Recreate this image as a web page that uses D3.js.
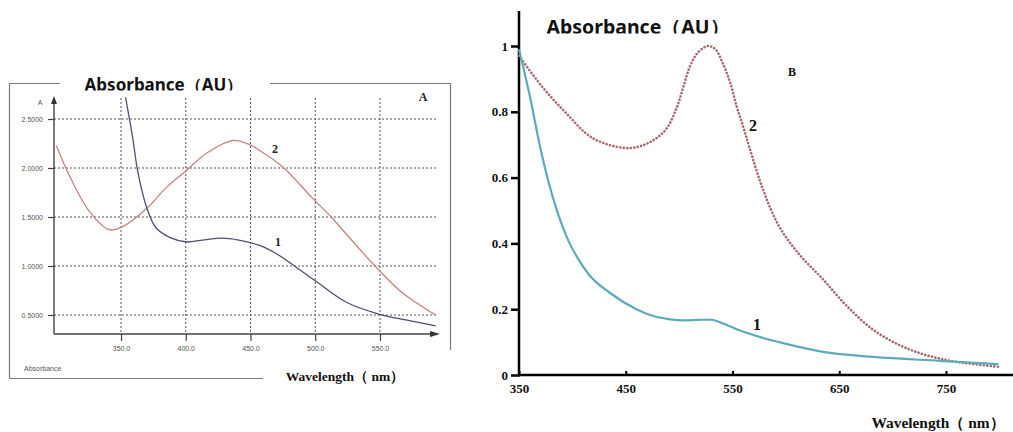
<!DOCTYPE html>
<html><head><meta charset="utf-8">
<script src="https://cdn.jsdelivr.net/npm/d3@7/dist/d3.min.js"></script>
<style>
html,body{margin:0;padding:0;background:#fff;}
svg{display:block;}
</style></head>
<body>
<svg id="chart" width="1013" height="432"></svg>
<script>
// ---------- Panel A data ----------
const ticksA_x = [350, 400, 450, 500, 550];
const ticksA_y = [0.5, 1.0, 1.5, 2.0, 2.5];
const wlA1 = [353.5, 359, 363, 370, 377, 388, 401, 413, 428, 441, 457, 472, 485, 501, 524, 549, 570, 593];
const absA1 = [2.72, 2.31, 1.96, 1.59, 1.39, 1.29, 1.245, 1.265, 1.285, 1.265, 1.21, 1.11, 0.99, 0.84, 0.63, 0.51, 0.45, 0.39];
const wlA2 = [300, 311, 326, 341, 351, 370, 385, 401, 416, 436, 449, 457, 475, 498, 513, 528, 549, 567, 593];
const absA2 = [2.23, 1.90, 1.55, 1.37, 1.40, 1.59, 1.80, 1.98, 2.15, 2.28, 2.24, 2.18, 2.01, 1.69, 1.49, 1.265, 0.96, 0.73, 0.50];

// ---------- Panel B data ----------
const ticksB_x = [350, 450, 550, 650, 750];
const ticksB_y = [0, 0.2, 0.4, 0.6, 0.8, 1];
const ticksB_yLabels = ["0", "0.2", "0.4", "0.6", "0.8", "1"];
const wlB1 = [350, 360, 370, 377, 386, 396, 406, 416, 435, 460, 475, 490, 505, 520, 530, 540, 557, 576, 600, 632, 682, 744, 799];
const absB1 = [0.99, 0.85, 0.69, 0.595, 0.495, 0.41, 0.35, 0.303, 0.25, 0.20, 0.18, 0.17, 0.166, 0.168, 0.168, 0.158, 0.135, 0.115, 0.095, 0.072, 0.055, 0.043, 0.033];
const wlB2 = [350, 372, 393, 419, 449, 463, 476, 488, 498, 504, 510, 517, 527, 534, 541, 548, 554, 560, 566, 579, 594, 613, 635, 657, 682, 707, 732, 760, 799];
const absB2 = [0.97, 0.875, 0.80, 0.72, 0.69, 0.695, 0.714, 0.748, 0.815, 0.876, 0.937, 0.978, 1.0, 0.99, 0.947, 0.887, 0.815, 0.755, 0.69, 0.56, 0.45, 0.365, 0.29, 0.21, 0.137, 0.09, 0.06, 0.04, 0.025];

const svg = d3.select("#chart");
const defs = svg.append("defs");

// ================= PANEL A =================
const xA = d3.scaleLinear().domain([350, 550]).range([121, 380]);
const yA = d3.scaleLinear().domain([0.5, 2.5]).range([315, 119]);
const gA = svg.append("g");
const frameC = "#7a7a7a";

// outer frame (partial)
gA.append("path").attr("d", "M60,83.5 H9.5 V378.5 H263").attr("fill","none").attr("stroke",frameC).attr("stroke-width",1.2);
gA.append("path").attr("d", "M270,83.5 H450.5 V350").attr("fill","none").attr("stroke",frameC).attr("stroke-width",1.2);

// gridlines
gA.append("g").selectAll("line").data(ticksA_y).join("line")
  .attr("x1", 54).attr("x2", 437).attr("y1", d => yA(d)).attr("y2", d => yA(d))
  .attr("stroke", "#555").attr("stroke-width", 1).attr("stroke-dasharray", "2,2");
gA.append("g").selectAll("line").data(ticksA_x).join("line")
  .attr("x1", d => xA(d)).attr("x2", d => xA(d)).attr("y1", 98).attr("y2", 334)
  .attr("stroke", "#555").attr("stroke-width", 1).attr("stroke-dasharray", "2,2");

// axes
const axAy = d3.axisLeft(yA).tickValues(ticksA_y).tickFormat(d3.format(".4f")).tickSize(6).tickPadding(5);
const gAy = gA.append("g").attr("transform","translate(54,0)").call(axAy);
gAy.select(".domain").remove();
gAy.selectAll("line").attr("stroke","#444").attr("stroke-width",1.2);
gAy.selectAll("text").attr("font-family","Liberation Sans, Arial, sans-serif").attr("font-size",7).attr("fill","#555");

const axAx = d3.axisBottom(xA).tickValues(ticksA_x).tickFormat(d3.format(".1f")).tickSize(7).tickPadding(5);
const gAx = gA.append("g").attr("transform","translate(0,334)").call(axAx);
gAx.select(".domain").remove();
gAx.selectAll("line").attr("stroke","#444").attr("stroke-width",1.2);
gAx.selectAll("text").attr("font-family","Liberation Sans, Arial, sans-serif").attr("font-size",7).attr("fill","#555");

gA.append("line").attr("x1",54).attr("x2",54).attr("y1",334).attr("y2",102).attr("stroke","#444").attr("stroke-width",1.4);
gA.append("path").attr("d","M51,104 L54,96 L57,104 Z").attr("fill","#333");
gA.append("line").attr("x1",54).attr("x2",432).attr("y1",334).attr("y2",334).attr("stroke","#444").attr("stroke-width",1.4);
gA.append("path").attr("d","M430,331 L440,334 L430,337 Z").attr("fill","#333");

gA.append("text").attr("x",40).attr("y",105).attr("text-anchor","middle").attr("font-family","Liberation Sans, Arial, sans-serif").attr("font-size",7).attr("fill","#555").text("A");
gA.append("text").attr("x",24).attr("y",371).attr("font-family","Liberation Sans, Arial, sans-serif").attr("font-size",7).attr("fill","#555").text("Absorbance");

// curves
const lineA = d3.line().x(d => xA(d[0])).y(d => yA(d[1])).curve(d3.curveCatmullRom.alpha(0.5));
gA.append("path").datum(wlA2.map((w,i)=>[w,absA2[i]])).attr("d", lineA)
  .attr("fill","none").attr("stroke","#c4847e").attr("stroke-width",1.3);
gA.append("path").datum(wlA1.map((w,i)=>[w,absA1[i]])).attr("d", lineA)
  .attr("fill","none").attr("stroke","#4c5070").attr("stroke-width",1.3);

gA.append("text").attr("x",275).attr("y",153).attr("text-anchor","middle").attr("font-family","Liberation Serif, Times New Roman, serif").attr("font-weight","bold").attr("font-size",12).attr("fill","#222").text("2");
gA.append("text").attr("x",278).attr("y",246).attr("text-anchor","middle").attr("font-family","Liberation Serif, Times New Roman, serif").attr("font-weight","bold").attr("font-size",12).attr("fill","#222").text("1");
gA.append("text").attr("x",423).attr("y",101).attr("text-anchor","middle").attr("font-family","Liberation Serif, Times New Roman, serif").attr("font-weight","bold").attr("font-size",12).attr("fill","#222").text("A");

// title A (clipped at bottom)
defs.append("clipPath").attr("id","clipTA").append("rect").attr("x",60).attr("y",60).attr("width",210).attr("height",30.5);
gA.append("text").attr("clip-path","url(#clipTA)").attr("x",164).attr("y",91).attr("text-anchor","middle")
  .attr("font-family","Noto Sans, Open Sans, sans-serif").attr("font-weight","bold").attr("font-size",17).attr("fill","#111")
  .text("Absorbance（AU）");
gA.append("text").attr("x",345).attr("y",381).attr("text-anchor","middle")
  .attr("font-family","Liberation Serif, Times New Roman, serif").attr("font-weight","bold").attr("font-size",13.5).attr("fill","#111")
  .text("Wavelength（ nm）");

// ================= PANEL B =================
const xB = d3.scaleLinear().domain([350, 750]).range([519, 946]);
const yB = d3.scaleLinear().domain([0, 1]).range([375, 46]);
const gB = svg.append("g");

const axBy = d3.axisLeft(yB).tickValues(ticksB_y).tickFormat((d,i) => ticksB_yLabels[i]).tickSize(8).tickPadding(3);
const gBy = gB.append("g").attr("transform","translate(519,0)").call(axBy);
gBy.select(".domain").remove();
gBy.selectAll("line").attr("stroke","#000").attr("stroke-width",2.5);
gBy.selectAll("text").attr("font-family","Liberation Serif, Times New Roman, serif").attr("font-weight","bold").attr("font-size",13).attr("fill","#111");

const axBx = d3.axisBottom(xB).tickValues(ticksB_x).tickSize(-4).tickPadding(9);
const gBx = gB.append("g").attr("transform","translate(0,375)").call(axBx);
gBx.select(".domain").remove();
gBx.selectAll("line").attr("stroke","#000").attr("stroke-width",2);
gBx.selectAll("text").attr("font-family","Liberation Serif, Times New Roman, serif").attr("font-weight","bold").attr("font-size",13).attr("fill","#111");

gB.append("line").attr("x1",519).attr("x2",519).attr("y1",11).attr("y2",376.5).attr("stroke","#000").attr("stroke-width",2.5);
gB.append("line").attr("x1",518).attr("x2",1013).attr("y1",375).attr("y2",375).attr("stroke","#000").attr("stroke-width",2.5);

const lineB2 = d3.line().x(d => xB(d[0])).y(d => yB(d[1])).curve(d3.curveCatmullRom.alpha(0.5));
const lineB1 = d3.line().x(d => xB(d[0])).y(d => yB(d[1])).curve(d3.curveMonotoneX);
gB.append("path").datum(wlB2.map((w,i)=>[w,absB2[i]])).attr("d", lineB2)
  .attr("fill","none").attr("stroke","#a86a6c").attr("stroke-width",2.6)
  .attr("stroke-dasharray","0.1,3.4").attr("stroke-linecap","round");
gB.append("path").datum(wlB1.map((w,i)=>[w,absB1[i]])).attr("d", lineB1)
  .attr("fill","none").attr("stroke","#5eaab8").attr("stroke-width",2.2);

gB.append("text").attr("x",753).attr("y",131).attr("text-anchor","middle").attr("font-family","Liberation Serif, Times New Roman, serif").attr("font-weight","bold").attr("font-size",16).attr("fill","#111").text("2");
gB.append("text").attr("x",757).attr("y",330).attr("text-anchor","middle").attr("font-family","Liberation Serif, Times New Roman, serif").attr("font-weight","bold").attr("font-size",16).attr("fill","#111").text("1");
gB.append("text").attr("x",792).attr("y",76).attr("text-anchor","middle").attr("font-family","Liberation Serif, Times New Roman, serif").attr("font-weight","bold").attr("font-size",12).attr("fill","#111").text("B");

defs.append("clipPath").attr("id","clipTB").append("rect").attr("x",530).attr("y",0).attr("width",215).attr("height",33.5);
gB.append("text").attr("clip-path","url(#clipTB)").attr("x",638).attr("y",33.5).attr("text-anchor","middle")
  .attr("font-family","Noto Sans, Open Sans, sans-serif").attr("font-weight","bold").attr("font-size",19.5).attr("fill","#111")
  .text("Absorbance（AU）");
gB.append("text").attr("x",938).attr("y",428).attr("text-anchor","middle")
  .attr("font-family","Liberation Serif, Times New Roman, serif").attr("font-weight","bold").attr("font-size",15.4).attr("fill","#111")
  .text("Wavelength（ nm）");
</script>
</body></html>
